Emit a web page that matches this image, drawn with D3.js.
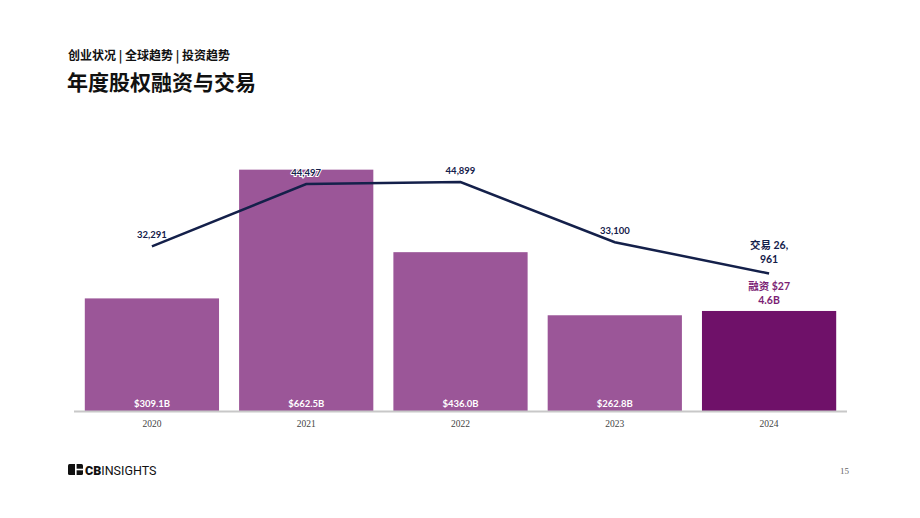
<!DOCTYPE html>
<html>
<head>
<meta charset="utf-8">
<script src="https://cdn.jsdelivr.net/npm/d3@7"></script>
<style>
  body { margin: 0; background: #fff; }
</style>
</head>
<body>
<div id="chart"></div>
<script>
// Chart data
const years = ["2020", "2021", "2022", "2023", "2024"];
const funding = [309.1, 662.5, 436.0, 262.8, 274.6];
const fundingLabels = ["$309.1B", "$662.5B", "$436.0B", "$262.8B", ""];
const deals = [32291, 44497, 44899, 33100, 26961];
const dealLabels = ["32,291", "44,497", "44,899", "33,100", ""];

const width = 920;
const height = 518;
const baseY = 411;
const sans = "Lato, 'Noto Sans CJK SC', sans-serif";
const serif = "'Liberation Serif', serif";

let svg = d3.select("#chart").append("svg")
            .attr("width", width)
            .attr("height", height)
            .style("font-family", sans)

// Header
svg.append("text")
   .attr("x", 68).attr("y", 60)
   .attr("font-size", 12).attr("font-weight", 700)
   .attr("fill", "#111")
   .style("font-family", "'Noto Sans CJK SC'")
   .text("创业状况 | 全球趋势 | 投资趋势")

svg.append("text")
   .attr("x", 67).attr("y", 90)
   .attr("font-size", 21).attr("font-weight", 700)
   .attr("fill", "#111")
   .style("font-family", "'Noto Sans CJK SC'")
   .text("年度股权融资与交易")

let x = d3.scaleBand()
          .domain(years)
          .range([74, 847])
          .paddingInner(0.13)
          .paddingOuter(0.07)

let yBar = d3.scaleLinear().domain([0, 700]).range([baseY, 156])
let yLine = d3.scaleLinear().domain([0, 50000]).range([baseY, 156])

// Bars
svg.selectAll("rect.bar")
   .data(years)
   .enter()
   .append("rect")
   .attr("class", "bar")
   .attr("x", d => x(d))
   .attr("width", x.bandwidth())
   .attr("y", (d, i) => yBar(funding[i]))
   .attr("height", (d, i) => baseY - yBar(funding[i]))
   .attr("fill", (d, i) => i === 4 ? "#6F1169" : "#9B5698")

// Value labels inside bars
svg.selectAll("text.barlabel")
   .data(years)
   .enter()
   .append("text")
   .attr("x", d => x(d) + x.bandwidth() / 2)
   .attr("y", 407)
   .attr("text-anchor", "middle")
   .attr("font-size", 9.5).attr("font-weight", 700)
   .attr("fill", "#fff")
   .text((d, i) => fundingLabels[i])

// Baseline axis
svg.append("line")
   .attr("x1", 74).attr("x2", 847)
   .attr("y1", baseY + 0.5).attr("y2", baseY + 0.5)
   .attr("stroke", "#c8c8c8").attr("stroke-width", 2)

let xAxis = svg.append("g")
               .attr("transform", "translate(0," + baseY + ")")
               .call(d3.axisBottom(x).tickSize(0).tickPadding(9))
xAxis.select(".domain").remove()
xAxis.selectAll("text")
     .style("font-family", serif)
     .attr("font-size", 9.5)
     .attr("fill", "#444")

// Deal count line
let line = d3.line()
             .x((d, i) => x(years[i]) + x.bandwidth() / 2)
             .y(d => yLine(d))

svg.append("path")
   .datum(deals)
   .attr("d", line)
   .attr("fill", "none")
   .attr("stroke", "#14204A")
   .attr("stroke-width", 2.5)

svg.selectAll("text.deallabel")
   .data(deals)
   .enter()
   .append("text")
   .attr("x", (d, i) => x(years[i]) + x.bandwidth() / 2)
   .attr("y", d => yLine(d) - 8)
   .attr("text-anchor", "middle")
   .attr("font-size", 9.5).attr("font-weight", 700)
   .attr("fill", "#14204A")
   .attr("stroke", "#fff").attr("stroke-width", 2).attr("paint-order", "stroke")
   .text((d, i) => dealLabels[i])

// 2024 annotations
let cx = x("2024") + x.bandwidth() / 2
svg.append("text").attr("x", cx).attr("y", 249)
   .attr("text-anchor", "middle").attr("font-size", 10.5).attr("font-weight", 700)
   .attr("fill", "#14204A").text("交易 26,")
svg.append("text").attr("x", cx).attr("y", 263)
   .attr("text-anchor", "middle").attr("font-size", 10.5).attr("font-weight", 700)
   .attr("fill", "#14204A").text("961")
svg.append("text").attr("x", cx).attr("y", 290)
   .attr("text-anchor", "middle").attr("font-size", 10.5).attr("font-weight", 700)
   .attr("fill", "#7B1E74").text("融资 $27")
svg.append("text").attr("x", cx).attr("y", 304)
   .attr("text-anchor", "middle").attr("font-size", 10.5).attr("font-weight", 700)
   .attr("fill", "#7B1E74").text("4.6B")

// Logo
let logo = svg.append("g").attr("transform", "translate(68,464)")
logo.append("rect").attr("x", 0).attr("y", 0).attr("width", 15).attr("height", 11).attr("rx", 1.5).attr("fill", "#111")
logo.append("rect").attr("x", 7).attr("y", -0.5).attr("width", 1.6).attr("height", 12).attr("fill", "#fff")
logo.append("rect").attr("x", 8).attr("y", 4.7).attr("width", 7.5).attr("height", 1.6).attr("fill", "#fff")
logo.append("text").attr("x", 17).attr("y", 10.5)
    .style("font-family", "Roboto, sans-serif")
    .attr("font-size", 12.5).attr("fill", "#111")
    .html('<tspan font-weight="900">CB</tspan><tspan font-weight="400">INSIGHTS</tspan>')

// Page number
svg.append("text").attr("x", 849).attr("y", 474)
   .attr("text-anchor", "end")
   .style("font-family", serif)
   .attr("font-size", 9).attr("fill", "#666")
   .text("15")
</script>
</body>
</html>
